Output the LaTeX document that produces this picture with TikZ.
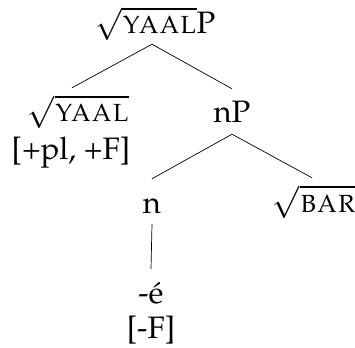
\documentclass[tikz,border=0pt]{standalone}
\usepackage[T1]{fontenc}
\usepackage{mathpazo}
\newcommand{\rootof}[1]{$\sqrt{\raisebox{0pt}[0.52em][0pt]{\textsc{#1}}}$}
\begin{document}
\begin{tikzpicture}[x=1pt,y=-1pt,
  tnode/.style={inner sep=0pt, text height=34pt, text depth=11pt, anchor=base, font=\fontsize{31}{37}\selectfont},
  plain/.style={inner sep=0pt, anchor=base, font=\fontsize{31}{37}\selectfont},
  branch/.style={line width=0.7pt, black}]
\useasboundingbox (0,0) rectangle (355,347);
\node[tnode, text height=26pt, text depth=10pt] (root) at (155,34) {\rootof{yaal}P};
\node[tnode] (yaal) at (78,122) {\rootof{yaal}};
\node[plain] (feat1) at (71,160) {[+pl, +F]};
\node[tnode] (nP) at (232,123) {nP};
\node[tnode] (n) at (152,213) {n};
\node[tnode] (bar) at (314,212) {\rootof{bar}};
\node[tnode] (e) at (151,303) {-\'e};
\node[plain] (feat2) at (151,338) {[-F]};
\draw[branch] ([xshift=-3pt]root.south) -- ([xshift=-6pt]yaal.north);
\draw[branch] ([xshift=-3pt]root.south) -- (nP.north);
\draw[branch] (nP.south) -- (n.north);
\draw[branch] (nP.south) -- ([xshift=-2pt]bar.north);
\draw[branch] (n.south) -- (e.north);
\end{tikzpicture}
\end{document}
